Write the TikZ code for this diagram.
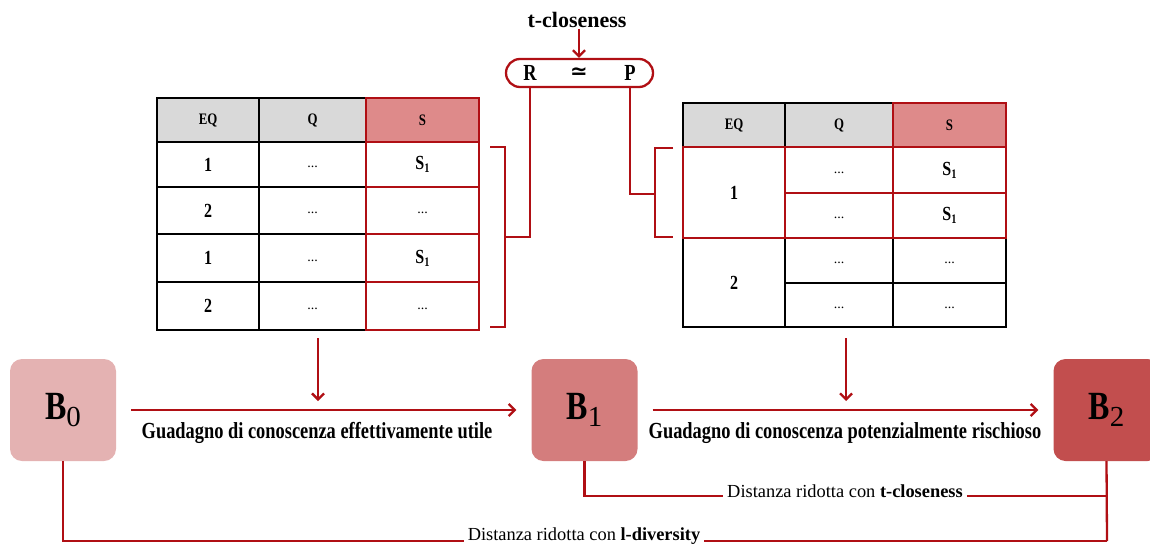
\documentclass[tikz,border=0pt]{standalone}
\usepackage{fontspec}
\setmainfont{Liberation Serif}
\newfontfamily\narrowserif[FakeStretch=0.8]{Liberation Serif}
\newfontfamily\symbolfont{DejaVu Sans}
\usetikzlibrary{arrows.meta}

\definecolor{linkred}{HTML}{B00F14}
\definecolor{headgray}{HTML}{D9D9D9}
\definecolor{headred}{HTML}{DE8A8A}
\definecolor{bzero}{HTML}{E4B2B2}
\definecolor{bone}{HTML}{D47D7D}
\definecolor{btwo}{HTML}{C24E4E}

% bold B with a plain subscript digit
\newcommand\bstate[1]{{\narrowserif\bfseries\fontsize{40}{42}\selectfont B}{\fontsize{29}{31}\selectfont\raisebox{-7pt}{#1}}}
% sensitive value S with subscript
\newcommand\sval[1]{{\narrowserif\bfseries\fontsize{20}{22}\selectfont S\raisebox{-3pt}{\fontsize{13}{14}\selectfont #1}}}

\tikzset{
  link/.style={draw=linkred, line width=2.3pt},
  tip/.style={-{Straight Barb[length=6pt,width=12pt]}},
  cell/.style={draw=black, line width=1.9pt, inner sep=0pt},
  redcell/.style={cell, draw=linkred},
  headtxt/.style={font=\narrowserif\bfseries\fontsize{16}{18}\selectfont},
  numtxt/.style={font=\narrowserif\bfseries\fontsize{20}{22}\selectfont},
  dottxt/.style={font=\fontsize{14}{16}\selectfont, text height=6pt, text depth=0pt},
  bbox/.style={rounded corners=12pt, minimum width=106pt, minimum height=102pt, inner sep=0pt},
  biglabel/.style={font=\narrowserif\bfseries\fontsize{23}{25}\selectfont, inner sep=2pt},
  distlabel/.style={font=\fontsize{18.4}{20}\selectfont, inner sep=4pt},
  symtxt/.style={font=\narrowserif\bfseries\fontsize{23}{25}\selectfont, inner sep=1pt},
}

\begin{document}
\begin{tikzpicture}[x=1pt,y=-1pt]
\useasboundingbox (0,0) rectangle (1150,549);

% ---------- title and the R ~ P capsule ----------
\node[font=\bfseries\fontsize{22}{24}\selectfont, inner sep=1pt] (title) at (577,20) {t-closeness};
\node[draw=linkred, line width=2.3pt, rounded corners=14pt, minimum width=147pt, minimum height=28pt, inner sep=0pt] (pill) at (579.5,73) {};
\node[symtxt] (R) at (530,73) {R};
\node[font=\symbolfont\bfseries\fontsize{21}{23}\selectfont, inner sep=1pt] (sim) at (579,73) {≃};
\node[symtxt] (P) at (630,73) {P};
\draw[link,tip] (title.south -| sim) -- (pill.north -| sim);

% ---------- left table ----------
\node[cell, fill=headgray, minimum width=102pt, minimum height=44pt, headtxt] (L-h1) at (208,120) {EQ};
\node[cell, fill=headgray, minimum width=107pt, minimum height=44pt, headtxt] (L-h2) at (312.5,120) {Q};
\node[cell, minimum width=102pt, minimum height=45pt, numtxt] (L-11) at (208,164.5) {1};
\node[cell, minimum width=107pt, minimum height=45pt, dottxt] (L-12) at (312.5,164.5) {...};
\node[cell, minimum width=102pt, minimum height=47pt, numtxt] (L-21) at (208,210.5) {2};
\node[cell, minimum width=107pt, minimum height=47pt, dottxt] (L-22) at (312.5,210.5) {...};
\node[cell, minimum width=102pt, minimum height=48pt, numtxt] (L-31) at (208,258) {1};
\node[cell, minimum width=107pt, minimum height=48pt, dottxt] (L-32) at (312.5,258) {...};
\node[cell, minimum width=102pt, minimum height=48pt, numtxt] (L-41) at (208,306) {2};
\node[cell, minimum width=107pt, minimum height=48pt, dottxt] (L-42) at (312.5,306) {...};
% sensitive column
\node[redcell, fill=headred, minimum width=113pt, minimum height=44pt, headtxt] (L-h3) at (422.5,120) {S};
\node[redcell, minimum width=113pt, minimum height=45pt] (L-13) at (422.5,164.5) {\sval{1}};
\node[redcell, minimum width=113pt, minimum height=47pt, dottxt] (L-23) at (422.5,210.5) {...};
\node[redcell, minimum width=113pt, minimum height=48pt] (L-33) at (422.5,258) {\sval{1}};
\node[redcell, minimum width=113pt, minimum height=48pt, dottxt] (L-43) at (422.5,306) {...};

% ---------- right table ----------
\node[cell, fill=headgray, minimum width=102pt, minimum height=44pt, headtxt] (T-h1) at (734,125) {EQ};
\node[cell, fill=headgray, minimum width=108pt, minimum height=44pt, headtxt] (T-h2) at (839,125) {Q};
\node[cell, minimum width=102pt, minimum height=89pt, numtxt] (T-e2) at (734,282.5) {2};
\node[cell, minimum width=108pt, minimum height=45pt, dottxt] (T-32) at (839,260.5) {...};
\node[cell, minimum width=113pt, minimum height=45pt, dottxt] (T-33) at (949.5,260.5) {...};
\node[cell, minimum width=108pt, minimum height=44pt, dottxt] (T-42) at (839,305) {...};
\node[cell, minimum width=113pt, minimum height=44pt, dottxt] (T-43) at (949.5,305) {...};
% first equivalence class and sensitive header
\node[redcell, fill=headred, minimum width=113pt, minimum height=44pt, headtxt] (T-h3) at (949.5,125) {S};
\node[redcell, minimum width=102pt, minimum height=91pt, numtxt] (T-e1) at (734,192.5) {1};
\node[redcell, minimum width=108pt, minimum height=46pt, dottxt] (T-12) at (839,170) {...};
\node[redcell, minimum width=113pt, minimum height=46pt] (T-13) at (949.5,170) {\sval{1}};
\node[redcell, minimum width=108pt, minimum height=45pt, dottxt] (T-22) at (839,215.5) {...};
\node[redcell, minimum width=113pt, minimum height=45pt] (T-23) at (949.5,215.5) {\sval{1}};

% ---------- brackets linking R and P to the rows ----------
\coordinate (lbr) at (505,237);
\coordinate (rbr) at (655,194);
\draw[link] (R |- pill.south) |- (lbr);
\draw[link] (490,147) -| (505,327) -- (490,327);
\draw[link] (P |- pill.south) |- (rbr);
\draw[link] (673,148) -| (655,237) -- (673,237);

% ---------- knowledge states ----------
\node[bbox, fill=bzero] (B0) at (63,410) {\bstate{0}};
\node[bbox, fill=bone] (B1) at (584.5,410) {\bstate{1}};
\node[bbox, fill=btwo] (B2) at (1106.5,410) {\bstate{2}};

\draw[link,tip, shorten <=15pt, shorten >=15pt] (B0) -- (B1);
\draw[link,tip, shorten <=15pt, shorten >=15pt] (B1) -- (B2);
\node[biglabel] (g1) at (317,433) {Guadagno di conoscenza effettivamente utile};
\node[biglabel] (g2) at (845,433) {Guadagno di conoscenza potenzialmente rischioso};

\coordinate (la0) at (318,338);
\coordinate (la1) at (318,401);
\coordinate (ra0) at (846,338);
\coordinate (ra1) at (846,401);
\draw[link,tip] (la0) -- (la1);
\draw[link,tip] (ra0) -- (ra1);

% ---------- distance annotations ----------
\coordinate (d1) at (1107,496);
\coordinate (d2) at (1107,541);
\node[distlabel] (dt) at (845,491) {Distanza ridotta con \textbf{t-closeness}};
\node[distlabel] (dl) at (584,536) {Distanza ridotta con \textbf{l-diversity}};
\draw[link] (B1.south) |- (dt.west |- d1);
\draw[link] (dt.east |- d1) -- (d1);
\draw[link] (B2.south) -- (d2);
\draw[link] (B0.south) |- (dl.west |- d2);
\draw[link] (dl.east |- d2) -- (d2);
\end{tikzpicture}
\end{document}
